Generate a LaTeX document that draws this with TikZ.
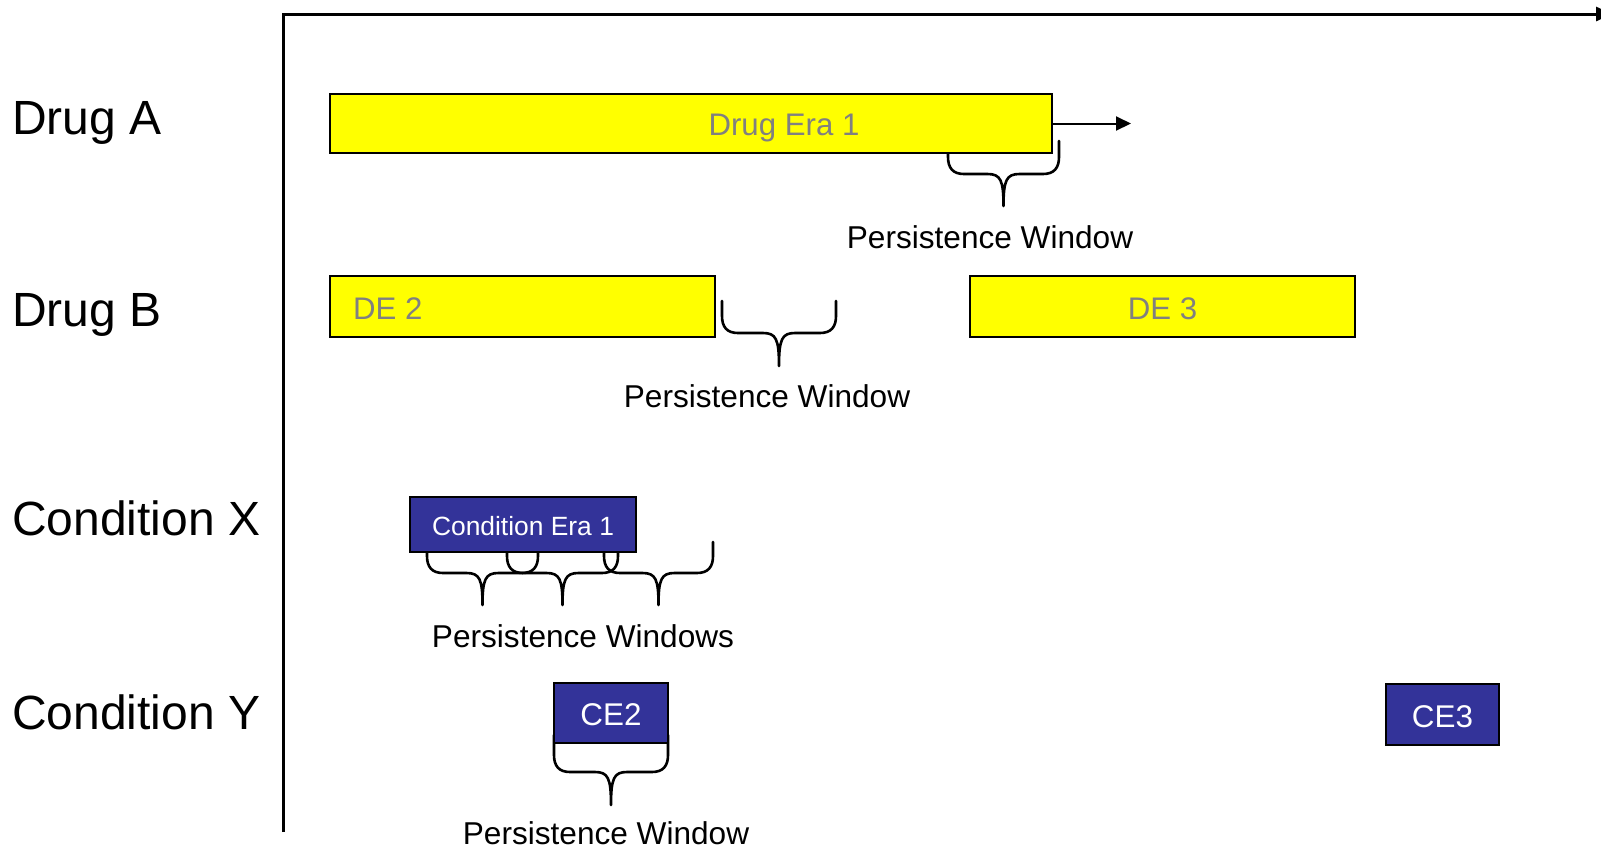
\documentclass[tikz,border=0pt]{standalone}
\usepackage{fontspec}
\setmainfont{Liberation Sans}
\usetikzlibrary{arrows.meta,fit,calc}

\definecolor{eraYellow}{RGB}{255,255,0}
\definecolor{eraBlue}{RGB}{51,51,153}
\definecolor{eraGrey}{RGB}{128,128,128}

% persistence window brace: left, right, top, bottom, tip
\newcommand{\pwbrace}[5]{%
  \draw[brace line] (#1,#3) -- (#1,#4-17) .. controls (#1,#4-6) and (#1+5,#4) .. (#1+16,#4)
    -- ({(#1+#2)/2-16},#4) .. controls ({(#1+#2)/2-3},#4) and ({(#1+#2)/2},#4+6) .. ({(#1+#2)/2},#5)
    .. controls ({(#1+#2)/2},#4+6) and ({(#1+#2)/2+3},#4) .. ({(#1+#2)/2+16},#4)
    -- (#2-16,#4) .. controls (#2-5,#4) and (#2,#4-6) .. (#2,#4-17) -- (#2,#3);}

\begin{document}
\begin{tikzpicture}[x=0.5pt, y=-0.5pt,
    rowlabel/.style={anchor=west, font=\fontsize{24}{29}\selectfont},
    pwlabel/.style={font=\fontsize{15.8}{19}\selectfont},
    drugbox/.style={draw=black, line width=1.2pt, fill=eraYellow, inner sep=0pt},
    druglabel/.style={text=eraGrey, font=\fontsize{15.6}{19}\selectfont},
    condbox/.style={draw=black, line width=1.2pt, fill=eraBlue, inner sep=0pt},
    condlabel/.style={text=white, font=\fontsize{15.7}{19}\selectfont},
    brace line/.style={line width=1.3pt, line join=round, line cap=round}]
    \useasboundingbox (0,0) rectangle (1601,848);

    % Time axes
    \coordinate (origin) at (283,14);
    \coordinate (axisend) at (1612,14);
    \coordinate (axisbottom) at (283,832);
    \draw[line width=1.5pt, -{Triangle[length=8pt, width=7pt]}] (axisbottom) -- (origin) -- (axisend);

    % Row labels
    \node[rowlabel] (drugA) at (5,123) {Drug A};
    \node[rowlabel] (drugB) at (5,315) {Drug B};
    \node[rowlabel] (condX) at (5,518) {Condition X};
    \node[rowlabel] (condY) at (5,712) {Condition Y};

    % Drug A
    \pwbrace{948}{1059}{141}{174}{206}
    \node[drugbox, fit={(330,94) (1052,153)}] (era1) {};
    \node[druglabel] (era1txt) at (784,128) {Drug Era 1};
    \coordinate (era1end) at (1131,123.5);
    \draw[line width=1pt, -{Triangle[length=7.5pt, width=7pt]}] (era1.east) -- (era1end);
    \node[pwlabel] (pwA) at (990,237) {Persistence Window};

    % Drug B
    \pwbrace{722}{836}{301}{333}{366}
    \node[drugbox, fit={(330,276) (715,337)}] (de2) {};
    \node[druglabel, anchor=west] (de2txt) at (346,309) {DE 2};
    \node[drugbox, fit={(970,276) (1355,337)}] (de3) {};
    \node[druglabel] (de3txt) at ([yshift=-1pt]de3.center) {DE 3};
    \node[pwlabel] (pwB) at (767,396) {Persistence Window};

    % Condition X
    \pwbrace{427}{538}{542}{573}{605}
    \pwbrace{507}{618}{542}{573}{605}
    \pwbrace{604}{713}{542}{573}{605}
    \node[condbox, fit={(410,497) (636,552)}] (ce1) {};
    \node[condlabel, font=\fontsize{13.2}{16}\selectfont] (ce1txt) at ([yshift=-1pt]ce1.center) {Condition Era 1};
    \node[pwlabel] (pwX) at (583,636) {Persistence Windows};

    % Condition Y
    \pwbrace{554}{668}{735}{772}{805}
    \node[condbox, fit={(554,683) (668,743)}] (ce2) {};
    \node[condlabel] (ce2txt) at ([yshift=-1pt]ce2.center) {CE2};
    \node[condbox, fit={(1386,684) (1499,745)}] (ce3) {};
    \node[condlabel] (ce3txt) at ([yshift=-1pt]ce3.center) {CE3};
    \node[pwlabel] (pwY) at (606,833) {Persistence Window};
\end{tikzpicture}
\end{document}
